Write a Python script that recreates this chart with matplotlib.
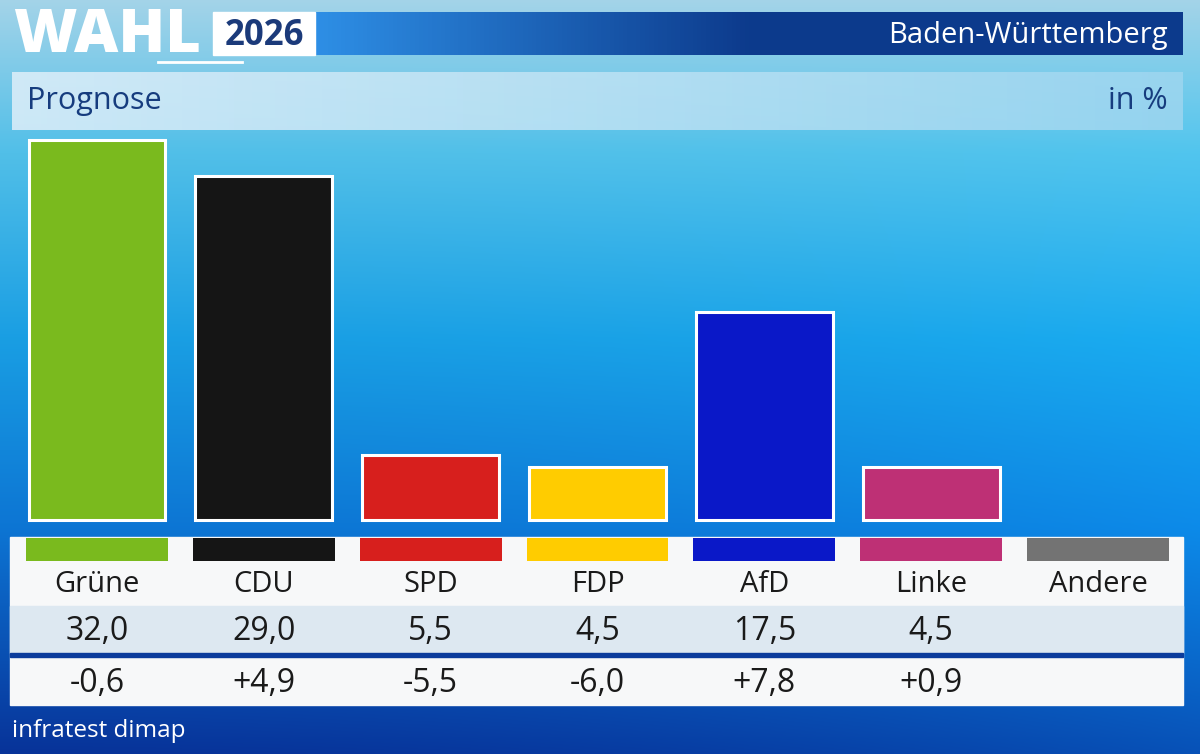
import numpy as np
import matplotlib
matplotlib.use("Agg")
import matplotlib.pyplot as plt
from matplotlib.transforms import blended_transform_factory

plt.rcParams['font.family'] = ['Open Sans', 'DejaVu Sans']

# Data
parties = ["Grüne", "CDU", "SPD", "FDP", "AfD", "Linke", "Andere"]
shares = [32.0, 29.0, 5.5, 4.5, 17.5, 4.5, None]
changes = ["-0,6", "+4,9", "-5,5", "-6,0", "+7,8", "+0,9", ""]
colors = ["#7aba1e", "#151515", "#d71f1d", "#ffcc00", "#0a18c8", "#be3075", "#737373"]

W, H = 1200, 754
fig = plt.figure(figsize=(12, 7.54), dpi=100)

# background panel in pixel coordinates
bg = fig.add_axes([0, 0, 1, 1])
bg.set_xlim(0, W)
bg.set_ylim(H, 0)
bg.axis("off")

yy = np.linspace(0, 1, 300)[:, None]
xx = np.linspace(0, 1, 400)[None, :]
stops_y = [0, 0.2, 0.45, 0.7, 1.0]
stops_c = np.array([[0.64, 0.83, 0.91], [0.32, 0.75, 0.91], [0.10, 0.62, 0.89],
                    [0.05, 0.46, 0.83], [0.03, 0.20, 0.60]])
grad = np.zeros((300, 400, 3))
for k in range(3):
    col = np.interp(yy[:, 0], stops_y, stops_c[:, k])[:, None]
    grad[:, :, k] = col + 0.0 * xx
# slightly lighter to the right near the bottom
grad[:, :, 2] += 0.12 * (xx ** 2) * yy
grad[:, :, 1] += 0.12 * (xx ** 2) * yy
grad = np.clip(grad, 0, 1)
bg.imshow(grad, extent=[0, W, H, 0], aspect="auto", zorder=0)

# header
bar_grad = np.zeros((1, 200, 3))
t = np.linspace(0, 1, 200)
for k, (a, b) in enumerate(zip([0.18, 0.56, 0.90], [0.05, 0.23, 0.55])):
    bar_grad[0, :, k] = np.interp(t, [0, 0.5, 1], [a, b, b])
bg.imshow(bar_grad, extent=[315, 1183, 55, 12], aspect="auto", zorder=1)
bg.add_patch(plt.Rectangle((213, 12), 102, 43, color="white", zorder=2))
bg.text(13, 36, "WAHL", color="white", fontsize=44, fontweight="black",
        va="center", ha="left", zorder=3)
bg.text(264, 36, "2026", color="#1b3a7a", fontsize=25, fontweight="bold",
        va="center", ha="center", zorder=3)
bg.plot([158, 242], [62, 62], color="white", lw=2, zorder=3)
bg.text(1168, 35, "Baden-Württemberg", color="white", fontsize=21,
        va="center", ha="right", zorder=3)

# Prognose band
band = np.zeros((1, 200, 4))
for k, (a, b) in enumerate(zip([0.88, 0.94, 0.98], [0.62, 0.84, 0.94])):
    band[0, :, k] = np.linspace(a, b, 200)
band[0, :, 3] = 0.85
bg.imshow(band, extent=[12, 1183, 130, 72], aspect="auto", zorder=1)
bg.text(27, 101, "Prognose", color="#163c7e", fontsize=22, va="center", ha="left", zorder=3)
bg.text(1168, 101, "in %", color="#163c7e", fontsize=22, va="center", ha="right", zorder=3)

# table panel
bg.add_patch(plt.Rectangle((10, 537), 1173, 168, color="#f7f8f9", zorder=1))
bg.add_patch(plt.Rectangle((10, 606), 1173, 47, color="#dde8f1", zorder=1))
bg.add_patch(plt.Rectangle((10, 653), 1173, 4, color="#0c3c9c", zorder=2))

bg.text(12, 731, "infratest dimap", color="white", fontsize=17.5, va="center", ha="left", zorder=3)

# bars in data coordinates
ax = fig.add_axes([0, 0, 1, 1])
ax.patch.set_alpha(0)
ax.axis("off")
step = (1098 - 97) / 6
px_unit = 380 / 32.0
ax.set_xlim(-97 / step, (W - 97) / step)
ax.set_ylim(-(H - 520) / px_unit, 520 / px_unit)

x = np.arange(len(parties))
has = [i for i, v in enumerate(shares) if v is not None]
ax.bar([x[i] for i in has], [shares[i] for i in has], width=0.82,
       color=[colors[i] for i in has], edgecolor="white", linewidth=2.2, zorder=3)

tr = blended_transform_factory(ax.transData, ax.transAxes)
def fy(px):
    return 1 - px / H

# colored strips
ax.bar(x, [23 / px_unit] * len(x), bottom=-(561 - 520) / px_unit, width=0.85,
       color=colors, linewidth=0, zorder=3)

for i, p in enumerate(parties):
    ax.text(i, fy(584), p, transform=tr, ha="center", va="center",
            fontsize=21, fontweight="medium", color="#1a1a1a")
    if shares[i] is not None:
        ax.text(i, fy(631), f"{shares[i]:.1f}".replace(".", ","), transform=tr,
                ha="center", va="center", fontsize=23, fontweight="medium", color="#1a1a1a")
    ax.text(i, fy(683), changes[i], transform=tr, ha="center", va="center",
            fontsize=23, fontweight="medium", color="#1a1a1a")

fig.savefig("out.png", dpi=100)
